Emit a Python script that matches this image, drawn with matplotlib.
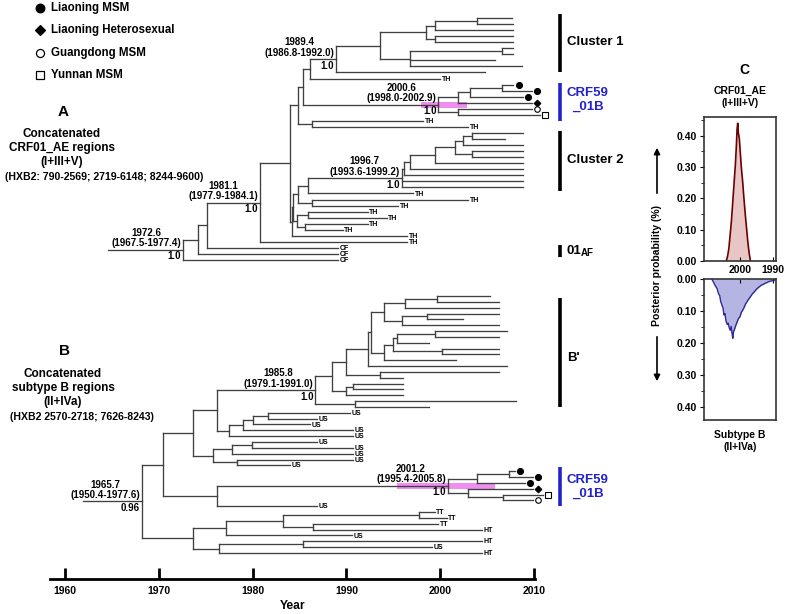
import matplotlib
matplotlib.use('Agg')
import matplotlib.pyplot as plt
from matplotlib.ticker import MultipleLocator
from itertools import count

plt.rcParams['font.family'] = ['Liberation Sans', 'DejaVu Sans']
plt.rcParams['font.weight'] = 'bold'
plt.rcParams['axes.labelweight'] = 'bold'

W, H = 789, 614
LINE = '#404040'
BLUE = '#2222cc'
PINK = '#f08ef0'


# tree helpers: node ages / tip dates are calendar years
def leaf(t, tag=''):
    return {'t': t, 'tag': tag}


def node(t, *kids, note=None, hpd=None):
    return {'t': t, 'kids': list(kids), 'note': note, 'hpd': hpd}


# ---- tree A : concatenated CRF01_AE regions ----
stem_a = 1964.6
tree_a = node(1972.6,
    node(1974.2,
        node(1975.1,
            node(1980.8,
                node(1984.0,
                    node(1984.8,
                        node(1985.4,
                            node(1986.1,
                                node(1988.9,
                                    node(1993.6,
                                        node(1998.5,
                                            node(1999.4, node(2003.9, leaf(2007.7), leaf(2007.8)), leaf(2007.8)),
                                            node(1999.4, leaf(2007.8), leaf(2007.8))),
                                        node(1996.8,
                                            node(2006.6, leaf(2007.8), leaf(2007.8)),
                                            leaf(2005.8), leaf(2008.7))),
                                    leaf(2004.8),
                                    note=('1989.4\n(1986.8-1992.0)', '1.0')),
                                leaf(2000.0, 'TH')),
                            node(1999.8,
                                node(2001.9,
                                    node(2003.2, node(2006.6, leaf(2007.8, 'ln'), leaf(2009.8, 'ln')), leaf(2008.8, 'ln')),
                                    leaf(2009.8, 'lh')),
                                node(2001.9, leaf(2009.8, 'gd'), leaf(2010.6, 'yn')),
                                note=('2000.6\n(1998.0-2002.9)', '1.0'), hpd=(1998.0, 2002.9))),
                        node(1986.3, leaf(1998.2, 'TH'), leaf(2003.0, 'TH'))),
                    node(1984.2,
                        node(1984.3,
                            node(1984.8,
                                node(1985.9,
                                    node(1995.9,
                                        node(1996.1,
                                            node(1996.8,
                                                node(1999.4,
                                                    node(2001.6,
                                                        node(2002.4, node(2003.4, leaf(2008.8), leaf(2006.9)), leaf(2008.8)),
                                                        node(2003.4, leaf(2008.8), leaf(2008.8))),
                                                    leaf(2008.8)),
                                                leaf(2008.8)),
                                            leaf(2008.8)),
                                        leaf(2008.8), leaf(2008.8),
                                        note=('1996.7\n(1993.6-1999.2)', '1.0')),
                                    leaf(1997.1, 'TH')),
                                node(1986.3, leaf(2003.0, 'TH'), leaf(1995.5, 'TH'))),
                            node(1984.7,
                                node(1985.9, leaf(1992.3, 'TH'), leaf(1994.3, 'TH')),
                                node(1985.6, leaf(1992.3, 'TH'), leaf(1989.6, 'TH')))),
                        leaf(1996.5, 'TH'))),
                leaf(1996.5, 'TH'),
                note=('1981.1\n(1977.9-1984.1)', '1.0')),
            leaf(1989.1, 'CF')),
        leaf(1989.1, 'CF')),
    leaf(1989.1, 'CF'),
    note=('1972.6\n(1967.5-1977.4)', '1.0'))

# ---- tree B : concatenated subtype B regions ----
stem_b = 1961.9
tree_b = node(1968.2,
    node(1970.4,
        node(1973.6,
            node(1976.2,
                node(1986.7,
                    node(1988.5,
                        node(1989.9,
                            node(1992.3,
                                node(1992.6,
                                    node(1994.0,
                                        node(1996.2, node(1999.7, leaf(2005.3), leaf(2006.3)), leaf(2006.3)),
                                        node(1995.9, node(1998.6, leaf(2006.3), leaf(2002.4)), leaf(2006.3))),
                                    node(1994.0,
                                        node(1995.0,
                                            node(1995.4, node(1999.4, leaf(2007.1), leaf(2006.3)), leaf(1998.8)),
                                            node(2000.2, leaf(2006.3), leaf(2006.3))),
                                        leaf(2001.7))),
                                leaf(2007.1)),
                            node(1993.6, leaf(2006.3), leaf(1996.0))),
                        node(1990.0, node(1990.7, leaf(1996.0), leaf(1996.0)), leaf(1996.0))),
                    node(1990.9, leaf(2008.1), leaf(1998.8)),
                    note=('1985.8\n(1979.1-1991.0)', '1.0')),
                node(1977.5,
                    node(1979.0,
                        node(1980.0, node(1981.6, leaf(1990.4, 'US'), leaf(1986.9, 'US')), leaf(1986.1, 'US')),
                        leaf(1990.7, 'US')),
                    leaf(1990.7, 'US'))),
            node(1975.8,
                node(1977.8, node(1979.9, leaf(1986.9, 'US'), leaf(1990.7, 'US')), leaf(1990.7, 'US')),
                node(1978.3, leaf(1990.7, 'US'), leaf(1984.0, 'US')))),
        node(1976.2,
            node(2000.8,
                node(2003.9, node(2007.3, leaf(2008.0, 'ln'), leaf(2009.9, 'ln')), leaf(2009.0, 'ln')),
                node(2003.0, leaf(2009.9, 'lh'), node(2006.7, leaf(2010.9, 'yn'), leaf(2009.9, 'gd'))),
                note=('2001.2\n(1995.4-2005.8)', '1.0'), hpd=(1995.4, 2005.8)),
            leaf(1986.9, 'US'))),
    node(1973.6,
        node(1977.2,
            node(1983.2,
                node(1997.7, leaf(1999.4, 'TT'), leaf(2000.7, 'TT')),
                node(1986.4, leaf(1999.8, 'TT'), leaf(2004.5, 'HT'))),
            leaf(1990.6, 'US')),
        node(1976.4, node(1985.4, leaf(2004.5, 'HT'), leaf(1999.1, 'US')), leaf(2004.5, 'HT'))),
    note=('1965.7\n(1950.4-1977.6)', '0.96'))

# ---- panel C : posterior densities of the CRF59 tMRCA ----
years_ae = [2004.2, 2003.8, 2003.4, 2003.0, 2002.6, 2002.2, 2001.8, 2001.4, 2001.1, 2000.9, 2000.7,
            2000.5, 2000.2, 1999.9, 1999.6, 1999.2, 1998.8, 1998.4, 1998.0, 1997.6, 1997.2, 1996.8]
dens_ae = [0.0, 0.015, 0.04, 0.085, 0.13, 0.19, 0.25, 0.31, 0.37, 0.42, 0.44,
           0.41, 0.39, 0.345, 0.30, 0.255, 0.20, 0.15, 0.105, 0.06, 0.025, 0.0]
years_b = [2008.6, 2008.0, 2007.5, 2007.0, 2006.6, 2006.2, 2005.9, 2005.5, 2005.2, 2004.9, 2004.6,
           2004.3, 2003.9, 2003.6, 2003.3, 2003.0, 2002.7, 2002.4, 2002.2, 2002.0, 2001.7, 2001.4,
           2001.1, 2000.8, 2000.4, 2000.0, 1999.6, 1999.2, 1998.8, 1998.3, 1997.8, 1997.3, 1996.8,
           1996.2, 1995.6, 1995.0, 1994.3, 1993.6, 1992.8, 1992.0, 1991.2, 1990.4, 1989.6, 1988.9]
dens_b = [0.0, 0.012, 0.022, 0.03, 0.045, 0.052, 0.07, 0.082, 0.09, 0.112, 0.108,
          0.13, 0.142, 0.138, 0.152, 0.16, 0.148, 0.172, 0.185, 0.165, 0.158, 0.148,
          0.14, 0.132, 0.122, 0.118, 0.104, 0.098, 0.09, 0.078, 0.07, 0.062, 0.055,
          0.046, 0.04, 0.032, 0.026, 0.02, 0.016, 0.012, 0.008, 0.006, 0.004, 0.002]

legend_tags = ['ln', 'lh', 'gd', 'yn']
legend_labels = ['Liaoning MSM', 'Liaoning Heterosexual', 'Guangdong MSM', 'Yunnan MSM']
year_ticks = [1960, 1970, 1980, 1990, 2000, 2010]

MARK = {'ln': dict(marker='o', mfc='black', ms=4.3),
        'lh': dict(marker='D', mfc='black', ms=3.4),
        'gd': dict(marker='o', mfc='white', ms=4.0),
        'yn': dict(marker='s', mfc='white', ms=4.0)}


def px_rect(l, t, r, b):
    return [l / W, 1 - b / H, (r - l) / W, (b - t) / H]


def draw(ax, nd, parent_t, rows):
    if 'kids' not in nd:
        y = next(rows)
        ax.plot([parent_t, nd['t']], [y, y], color=LINE, lw=0.95, clip_on=False)
        tag = nd['tag']
        if tag in MARK:
            st = MARK[tag]
            ax.plot(nd['t'] + 0.55, y, ls='none', marker=st['marker'], ms=st['ms'],
                    mfc=st['mfc'], mec='black', mew=0.8, clip_on=False)
        elif tag:
            ax.text(nd['t'] + 0.15, y + 0.6, tag, fontsize=5, ha='left', va='center')
        return y
    ys = [draw(ax, k, nd['t'], rows) for k in nd['kids']]
    y = (ys[0] + ys[-1]) / 2
    ax.plot([nd['t'], nd['t']], [ys[0], ys[-1]], color=LINE, lw=0.95)
    ax.plot([parent_t, nd['t']], [y, y], color=LINE, lw=0.95)
    if nd['hpd']:
        ax.fill_between(nd['hpd'], y - 3, y + 3, color=PINK, lw=0, zorder=0)
    if nd['note']:
        ax.text(nd['t'] - 0.2, y - 1.5, nd['note'][0], fontsize=7, ha='right', va='bottom',
                multialignment='center', linespacing=1.05)
        ax.text(nd['t'] - 0.2, y + 1.5, nd['note'][1], fontsize=7, ha='right', va='top')
    return y


fig = plt.figure(figsize=(W / 100, H / 100), dpi=100)

ov = fig.add_axes([0, 0, 1, 1])
ov.set_xlim(0, W)
ov.set_ylim(H, 0)
ov.axis('off')

# trees on a shared calendar axis (y in pixel rows)
ax = fig.add_axes(px_rect(50, 0, 535, 579))
ax.set_facecolor('none')
ax.set_xlim(1958.4, 2010.1)
ax.set_ylim(579, 0)
draw(ax, tree_a, stem_a, (18 + 6.05 * i for i in count()))
draw(ax, tree_b, stem_b, (296 + 5.84 * i for i in count()))
for s in ['left', 'right', 'top']:
    ax.spines[s].set_visible(False)
ax.spines['bottom'].set_linewidth(2)
ax.set_yticks([])
ax.set_xticks(year_ticks)
ax.tick_params(axis='x', direction='in', length=8, width=2, labelsize=7.5, pad=5)
ax.set_xlabel('Year', fontsize=8.7, fontweight='bold', labelpad=3)

# legend
for i, (tag, lab) in enumerate(zip(legend_tags, legend_labels)):
    y = 8 + 22.3 * i
    st = MARK[tag]
    ov.plot(40, y, ls='none', marker=st['marker'], ms=st['ms'] * 1.45, mfc=st['mfc'],
            mec='black', mew=0.9)
    ov.text(51, y, lab, fontsize=8.3, ha='left', va='center')

# panel captions
ov.text(63, 112, 'A', fontsize=11, ha='center', va='center')
ov.text(62, 148, 'Concatenated\nCRF01_AE regions\n(I+III+V)', fontsize=8.5, ha='center',
        va='center', linespacing=1.25)
ov.text(104, 177, '(HXB2: 790-2569; 2719-6148; 8244-9600)', fontsize=7.6, ha='center', va='center')
ov.text(65, 351, 'B', fontsize=11, ha='center', va='center')
ov.text(63, 388, 'Concatenated\nsubtype B regions\n(II+IVa)', fontsize=8.5, ha='center',
        va='center', linespacing=1.25)
ov.text(82, 417, '(HXB2 2570-2718; 7626-8243)', fontsize=7.6, ha='center', va='center')

# clade bars
bars = [(14, 72, 'black', 'Cluster 1', 42), (83, 121, BLUE, 'CRF59\n_01B', 100),
        (131, 191, 'black', 'Cluster 2', 160), (245, 257, 'black', '01', 251),
        (298, 407, 'black', "B'", 358), (467, 506, BLUE, 'CRF59\n_01B', 487)]
for top, bot, col, lab, ty in bars:
    ov.plot([560, 560], [top, bot], color=col, lw=2.6, solid_capstyle='butt')
    ov.text(567, ty, lab, color=col, fontsize=9.5, ha='left', va='center',
            multialignment='center', linespacing=1.2)
ov.text(581, 253, 'AF', fontsize=7, ha='left', va='center')

# panel C
ov.text(744, 70, 'C', fontsize=10, ha='center', va='center')
ov.text(740, 97, 'CRF01_AE\n(I+III+V)', fontsize=7.5, ha='center', va='center', linespacing=1.2)
ov.text(740, 441, 'Subtype B\n(II+IVa)', fontsize=7.5, ha='center', va='center', linespacing=1.2)
ov.text(657, 265, 'Posterior probability (%)', fontsize=7.5, rotation=90, ha='center', va='center')
ov.annotate('', xy=(657, 145), xytext=(657, 196),
            arrowprops=dict(arrowstyle='-|>', color='black', lw=1.2, mutation_scale=9))
ov.annotate('', xy=(657, 384), xytext=(657, 334),
            arrowprops=dict(arrowstyle='-|>', color='black', lw=1.2, mutation_scale=9))

axc1 = fig.add_axes(px_rect(704, 117, 776, 261))
axc1.fill_between(years_ae, 0, dens_ae, color='#e9c6c6', lw=0)
axc1.plot(years_ae, dens_ae, color='#6b0000', lw=1.2)
axc1.set_xlim(2011, 1989)
axc1.set_ylim(0, 0.46)
axc1.set_xticks([2000, 1990])
axc1.tick_params(axis='x', direction='in', length=3, labelsize=7.5, pad=3)

axc2 = fig.add_axes(px_rect(704, 279, 776, 420))
axc2.fill_between(years_b, 0, dens_b, color='#b5b5e3', lw=0)
axc2.plot(years_b, dens_b, color='#2a2a9a', lw=1.0)
axc2.set_xlim(2011, 1989)
axc2.set_ylim(0.44, 0)
axc2.set_xticks([2000, 1990])
axc2.xaxis.tick_top()
axc2.tick_params(axis='x', direction='in', length=3, labeltop=False, labelbottom=False)

for a in (axc1, axc2):
    a.yaxis.set_major_locator(MultipleLocator(0.1))
    a.yaxis.set_minor_locator(MultipleLocator(0.05))
    a.yaxis.set_major_formatter(plt.FormatStrFormatter('%.2f'))
    a.tick_params(axis='y', which='both', direction='out', labelsize=7.5, pad=2)
    a.tick_params(axis='y', which='major', length=3)
    a.tick_params(axis='y', which='minor', length=2)
    for s in a.spines.values():
        s.set_linewidth(1.2)
        s.set_color('#333333')

fig.savefig('out.png', dpi=100)
